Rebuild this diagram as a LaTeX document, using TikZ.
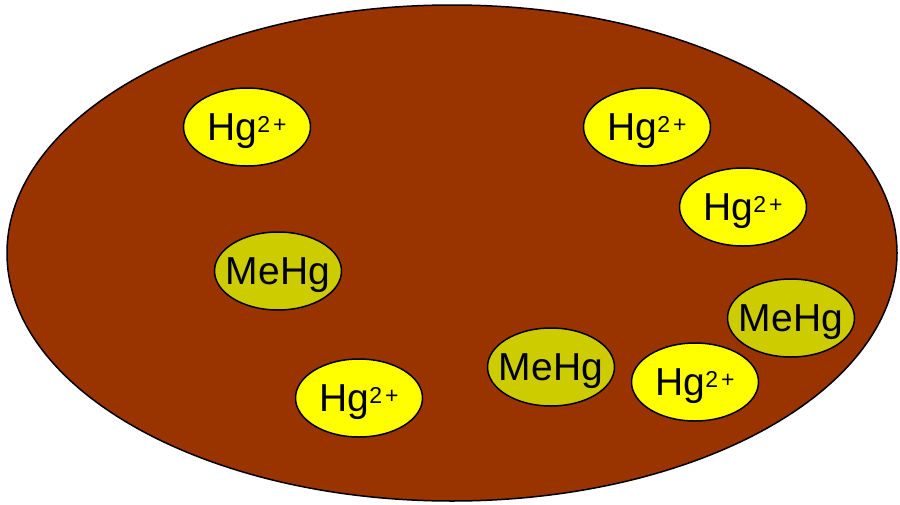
\documentclass[tikz,border=0pt]{standalone}
\usepackage{fontspec}
\setmainfont{Liberation Sans}
\usetikzlibrary{shapes.geometric}
\definecolor{sediment}{HTML}{993300}
\definecolor{ionyellow}{HTML}{FFFF00}
\definecolor{meolive}{HTML}{CCCC00}
\newcommand{\hgion}{Hg\raisebox{8pt}{\fontsize{23}{23}\selectfont 2\hspace{3pt}+}}
\begin{document}
\begin{tikzpicture}[x=1pt,y=-1pt,
  every node/.style={font=\fontsize{39}{41}\selectfont},
  blob/.style={draw,ellipse,line width=1.5pt,inner ysep=0pt,inner xsep=-16pt,minimum width=127pt,minimum height=78pt,text depth=0pt},
  hg/.style={blob,fill=ionyellow},
  mehg/.style={blob,fill=meolive}]
\useasboundingbox (0,0) rectangle (900,504);
% sediment particle
\draw[line width=1.5pt,fill=sediment] (452,253) ellipse [x radius=445pt, y radius=248pt];
% inorganic mercury
\node[hg] (hga) at (247,127) {\hgion};
\node[hg] (hgb) at (647,127) {\hgion};
\node[hg] (hgc) at (743,207) {\hgion};
\node[hg] (hgd) at (359,398) {\hgion};
\node[hg] (hge) at (695,382) {\hgion};
% methylmercury
\node[mehg] (mea) at (278,271) {MeHg};
\node[mehg] (meb) at (551,367) {MeHg};
\node[mehg] (mec) at (791,318) {MeHg};
\end{tikzpicture}
\end{document}
